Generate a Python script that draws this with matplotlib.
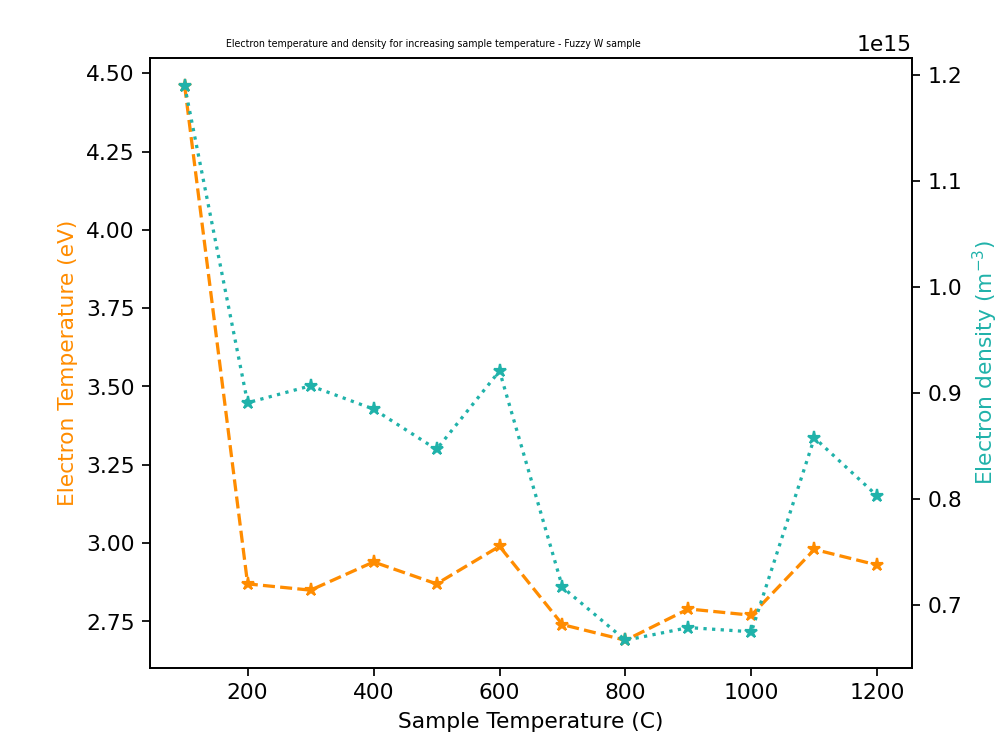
import matplotlib
matplotlib.use("Agg")
import matplotlib.pyplot as plt

sample_temp = [100, 200, 300, 400, 500, 600, 700, 800, 900, 1000, 1100, 1200]
electron_temp = [4.46, 2.87, 2.85, 2.94, 2.87, 2.99, 2.74, 2.69, 2.79, 2.77, 2.98, 2.93]
electron_density = [1.19e15, 0.891e15, 0.907e15, 0.885e15, 0.847e15, 0.921e15,
                     0.717e15, 0.667e15, 0.679e15, 0.675e15, 0.858e15, 0.803e15]

c_temp = "darkorange"
c_dens = "lightseagreen"

fig = plt.figure(figsize=(6.4, 4.717), dpi=156.25)
ax = fig.add_axes([0.15, 0.0936, 0.762, 0.8277])
ax.plot(sample_temp, electron_temp, linestyle="--", marker="*", color=c_temp)
ax.set_xlabel("Sample Temperature (C)")
ax.set_ylabel("Electron Temperature (eV)", color=c_temp)

ax2 = ax.twinx()
ax2.plot(sample_temp, electron_density, linestyle=":", marker="*", color=c_dens)
ax2.set_ylabel("Electron density (m$^{-3}$)", color=c_dens)

fig.text(0.4335, 1 - 47 / 737, "Electron temperature and density for increasing sample temperature - Fuzzy W sample",
         ha="center", va="baseline", fontsize=4.4, family=["DejaVu Sans"])

fig.savefig("out.png", dpi=156.25)
